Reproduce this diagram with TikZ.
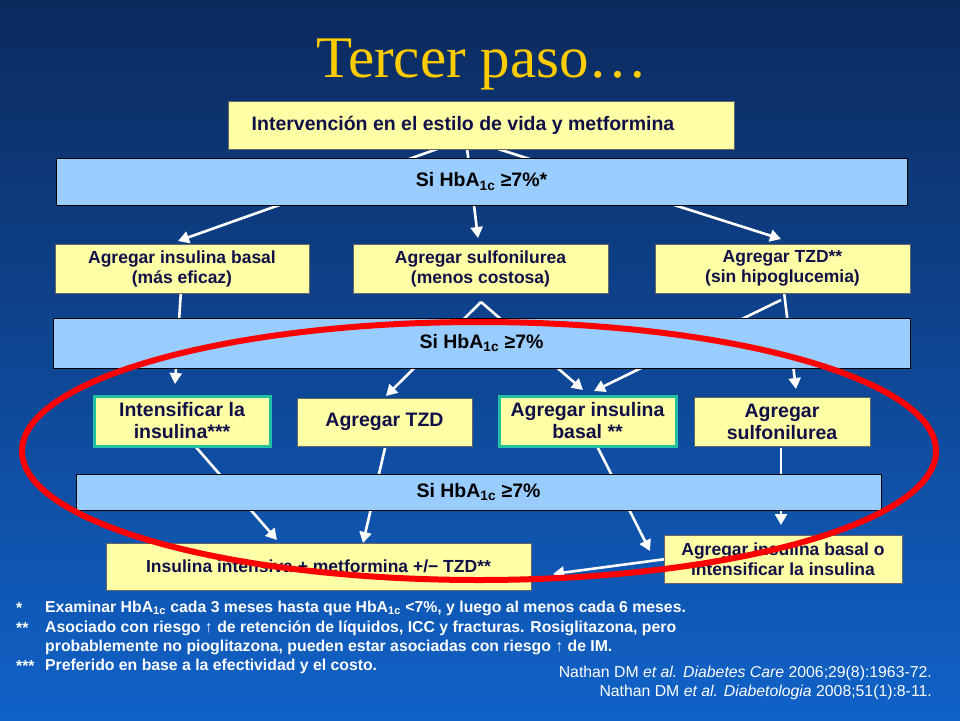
\documentclass[tikz,border=0pt]{standalone}
\usepackage{fontspec}
\setmainfont{Liberation Sans}
\newfontfamily\serifttl{Liberation Serif}
\usetikzlibrary{arrows.meta,shapes.geometric}
\pgfdeclarelayer{bgl}\pgfdeclarelayer{arl}
\pgfsetlayers{bgl,arl,main}
\definecolor{ybox}{HTML}{FFFFA6}
\definecolor{bbox}{HTML}{99CCFF}
\definecolor{gbord}{HTML}{20C0A0}
\definecolor{txt}{HTML}{101048}
\definecolor{bgtop}{HTML}{0C2A5E}
\definecolor{bgbot}{HTML}{1062C8}
\definecolor{ttl}{HTML}{FFCC00}
\tikzset{
 ybx/.style={draw=black!60,line width=0.6pt,fill=ybox,text=txt,font=\bfseries\fontsize{17.5}{20}\selectfont,align=center,inner sep=0pt},
 bbx/.style={draw=black,line width=1pt,fill=bbox,text=black,font=\bfseries\fontsize{19.5}{22}\selectfont,inner sep=0pt},
 gbx/.style={ybx,draw=gbord,line width=3pt},
 big/.style={font=\bfseries\fontsize{19.5}{22}\selectfont},
 arw/.style={white,line width=2.6pt,-{Triangle[length=11pt,width=12pt]}},
 note/.style={white,font=\bfseries\fontsize{15.8}{18}\selectfont,anchor=west,inner sep=0pt},
}
\newcommand{\hba}{HbA\textsubscript{1c}}
\begin{document}
\begin{tikzpicture}[x=1pt,y=-1pt]
\begin{pgfonlayer}{bgl}
\shade[top color=bgtop,bottom color=bgbot] (0,0) rectangle (960,720);
\end{pgfonlayer}
\useasboundingbox (0,0) rectangle (960,720);
\node[text=ttl,font=\serifttl\fontsize{59}{62}\selectfont] (title) at (482,64) {Tercer paso…};
\node[ybx,minimum width=506,minimum height=48,font=\bfseries\fontsize{19.5}{22}\selectfont] (top) at (481,125) {\hspace*{-36pt}Intervención en el estilo de vida y metformina};
\node[bbx,minimum width=851,minimum height=47] (bar1) at (481.5,181.5) {Si \hba{} ≥7\%*};
\node[ybx,minimum width=254,minimum height=49] (A) at (182,268.5) {Agregar insulina basal\\(más eficaz)};
\node[ybx,minimum width=255,minimum height=49] (B) at (480.5,268.5) {Agregar sulfonilurea\\(menos costosa)};
\node[ybx,minimum width=255,minimum height=49] (C) at (782.5,268.5) {Agregar TZD**\\(sin hipoglucemia)};
\node[bbx,minimum width=857,minimum height=50] (bar2) at (481.5,343) {Si \hba{} ≥7\%};
\node[gbx,big,minimum width=176,minimum height=50] (D) at (182,421) {Intensificar la\\insulina***};
\node[ybx,big,minimum width=175,minimum height=48] (E) at (384.5,422) {Agregar TZD};
\node[gbx,big,minimum width=177,minimum height=50] (F) at (587.5,421) {Agregar insulina\\basal **};
\node[ybx,big,minimum width=176,minimum height=49] (G) at (782,421.5) {Agregar\\sulfonilurea};
\node[bbx,minimum width=805,minimum height=36] (bar3) at (478.5,492) {Si \hba{} ≥7\%};
\node[ybx,minimum width=425,minimum height=47] (H) at (318.5,566.5) {Insulina intensiva + metformina +/− TZD**};
\node[ybx,minimum width=238,minimum height=48] (I) at (783,559) {Agregar insulina basal o\\intensificar la insulina};
% arrows
\coordinate (t1) at (440,148); \coordinate (t2) at (467,148); \coordinate (t3) at (495,148);
\coordinate (a1) at (178,241); \coordinate (b1) at (478,238); \coordinate (c1) at (781,239);
\coordinate (a2) at (181,290); \coordinate (d1) at (175,384);
\coordinate (b2) at (481,302); \coordinate (e1) at (386,396); \coordinate (f1) at (583,390);
\coordinate (c2) at (784,292); \coordinate (c3) at (781,300); \coordinate (g1) at (796,389); \coordinate (f2) at (594,391);
\coordinate (d2) at (195,446); \coordinate (h1) at (277,540);
\coordinate (e2) at (385,448); \coordinate (h2) at (363,543);
\coordinate (f3) at (597,446); \coordinate (i1) at (650,551);
\coordinate (g2) at (781,448); \coordinate (i2) at (781,525);
\coordinate (i3) at (666,559); \coordinate (h3) at (553,574);
\begin{pgfonlayer}{arl}
\draw[arw] (t1) -- (a1); \draw[arw] (t2) -- (b1); \draw[arw] (t3) -- (c1);
\draw[arw] (a2) -- (d1); \draw[arw] (b2) -- (e1); \draw[arw] (b2) -- (f1);
\draw[arw] (c2) -- (g1); \draw[arw] (c3) -- (f2);
\draw[arw] (d2) -- (h1); \draw[arw] (e2) -- (h2); \draw[arw] (f3) -- (i1);
\draw[arw] (g2) -- (i2); \draw[arw] (i3) -- (h3);
\end{pgfonlayer}
\node[draw=red,line width=6pt,ellipse,minimum width=914,minimum height=258,inner sep=0pt] (ell) at (479,451) {};
% notes
\node[note] (s1) at (16,608) {*}; \node[note] (n1) at (45,608) {Examinar \hba{} cada 3 meses hasta que \hba{} <7\%, y luego al menos cada 6 meses.};
\node[note] (s2) at (16,628) {**}; \node[note] (n2) at (45,628) {Asociado con riesgo ↑ de retención de líquidos, ICC y fracturas. Rosiglitazona, pero};
\node[note] (n3) at (45,647) {probablemente no pioglitazona, pueden estar asociadas con riesgo ↑ de IM.};
\node[note] (s3) at (16,666) {***}; \node[note] (n4) at (45,666) {Preferido en base a la efectividad y el costo.};
\node[white,font=\fontsize{15.8}{18}\selectfont,anchor=east,inner sep=0pt] (r1) at (932,673) {Nathan DM \textit{et al. Diabetes Care} 2006;29(8):1963-72.};
\node[white,font=\fontsize{15.8}{18}\selectfont,anchor=east,inner sep=0pt] (r2) at (932,692) {Nathan DM \textit{et al. Diabetologia} 2008;51(1):8-11.};
\end{tikzpicture}
\end{document}
